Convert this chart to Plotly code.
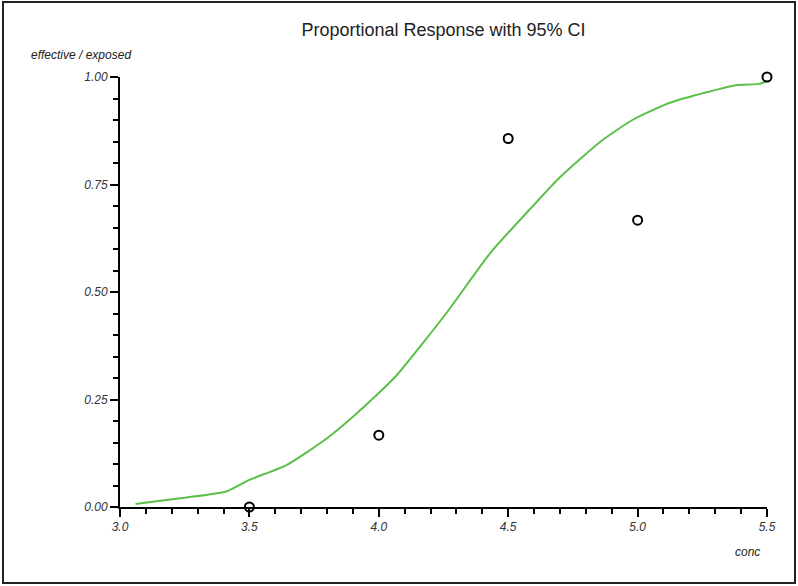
import plotly.graph_objects as go

# observed proportions
obs_conc = [3.5, 4.0, 4.5, 5.0, 5.5]
obs_prop = [0.0, 0.167, 0.857, 0.667, 1.0]

# fitted curve
fit_conc = [3.06, 3.2, 3.41, 3.5, 3.645, 3.8, 3.9, 4.0, 4.07, 4.26, 4.43, 4.58,
            4.70, 4.855, 4.98, 5.125, 5.27, 5.38, 5.47, 5.5]
fit_prop = [0.007, 0.018, 0.036, 0.063, 0.098, 0.16, 0.21, 0.265, 0.307, 0.45, 0.59, 0.69,
            0.767, 0.849, 0.90, 0.94, 0.965, 0.981, 0.984, 0.99]

x_ticks = [3.0, 3.5, 4.0, 4.5, 5.0, 5.5]
x_ticktext = ["3.0", "3.5", "4.0", "4.5", "5.0", "5.5"]
y_ticks = [0.0, 0.25, 0.5, 0.75, 1.0]
y_ticktext = ["0.00", "0.25", "0.50", "0.75", "1.00"]

FONT = "Liberation Sans, Arial"

fig = go.Figure()
fig.add_trace(go.Scatter(x=fit_conc, y=fit_prop, mode="lines",
                         line=dict(color="#5cbf4a", width=2, shape="spline", smoothing=0.6),
                         hoverinfo="skip", cliponaxis=False))
fig.add_trace(go.Scatter(x=obs_conc, y=obs_prop, mode="markers",
                         marker=dict(symbol="circle-open", size=9, color="black",
                                     line=dict(width=2, color="black")),
                         cliponaxis=False))

tickfont = dict(family=FONT, size=12, color="#333333", style="italic")
fig.update_xaxes(range=[3.0, 5.5], tickvals=x_ticks, ticktext=x_ticktext,
                 showgrid=False, zeroline=False, showline=True, linecolor="black",
                 linewidth=2, ticks="outside", ticklen=8, tickwidth=2, tickcolor="black",
                 tickfont=tickfont,
                 minor=dict(dtick=0.1, ticks="outside", ticklen=5, tickwidth=2,
                            tickcolor="black", showgrid=False))
fig.update_yaxes(range=[0, 1], tickvals=y_ticks, ticktext=y_ticktext,
                 showgrid=False, zeroline=False, showline=True, linecolor="black",
                 linewidth=2, ticks="outside", ticklen=8, tickwidth=2, tickcolor="black",
                 tickfont=tickfont,
                 minor=dict(dtick=0.05, ticks="outside", ticklen=5, tickwidth=2,
                            tickcolor="black", showgrid=False))

fig.update_layout(
    width=798, height=586,
    margin=dict(l=120, r=31, t=77, b=79),
    paper_bgcolor="white", plot_bgcolor="white",
    showlegend=False,
    title=dict(text="Proportional Response with 95% CI", x=0.5, xref="paper",
               y=1 - 30 / 586, yanchor="middle",
               font=dict(family=FONT, size=18, color="#222222")),
    annotations=[
        dict(text="<i>effective / exposed</i>", xref="paper", yref="paper",
             x=(81 - 120) / 647, y=(507 - 55) / 430, xanchor="center", yanchor="middle",
             showarrow=False, font=dict(family=FONT, size=12, color="#222222")),
        dict(text="<i>conc</i>", xref="paper", yref="paper",
             x=(747 - 120) / 647, y=(507 - 552) / 430, xanchor="center", yanchor="middle",
             showarrow=False, font=dict(family=FONT, size=12, color="#222222")),
    ],
    shapes=[dict(type="rect", xref="paper", yref="paper",
                 x0=(3 - 120) / 647, x1=(795 - 120) / 647,
                 y0=(507 - 583) / 430, y1=(507 - 2) / 430,
                 line=dict(color="#222222", width=2))],
)

fig.write_html("out.html",
               config={"displayModeBar": False},
               post_script="document.body.style.margin='0';"
                           "document.body.style.overflow='hidden';"
                           "document.documentElement.style.overflow='hidden';")
